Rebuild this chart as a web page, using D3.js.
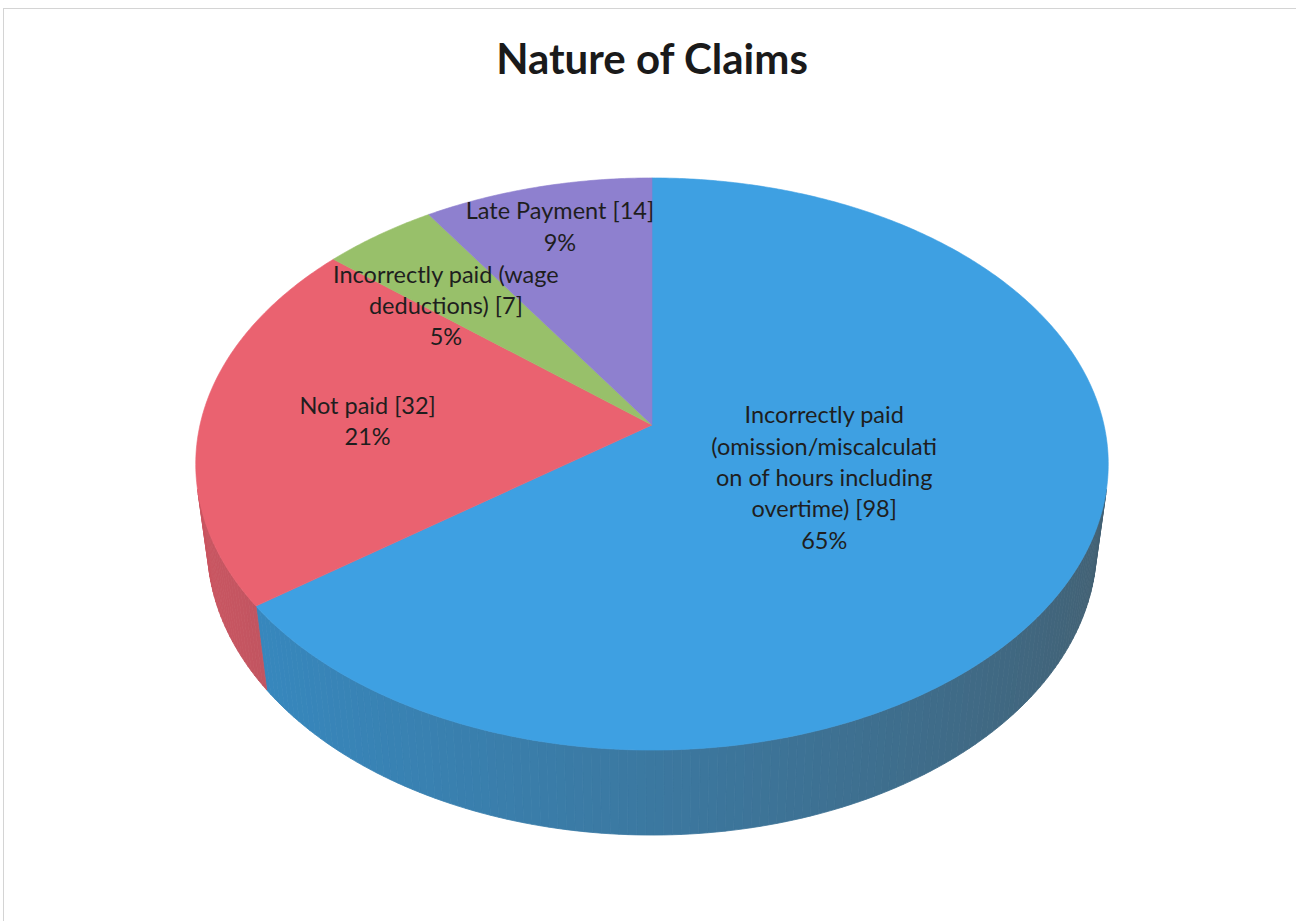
<!DOCTYPE html>
<html>
<head>
<meta charset="utf-8">
<script src="https://cdn.jsdelivr.net/npm/d3@7"></script>
<style>
  html, body { margin: 0; padding: 0; background: #ffffff; }
  svg { display: block; }
</style>
</head>
<body>
<svg id="chart" width="1296" height="921"></svg>
<script>
// Claims by nature (count of claims)
const categories = [
  "Incorrectly paid (omission/miscalculation of hours including overtime)",
  "Not paid",
  "Incorrectly paid (wage deductions)",
  "Late Payment"
];
const claims = [98, 32, 7, 14];
const labelLines = [
  ["Incorrectly paid", "(omission/miscalculati", "on of hours including", "overtime) [98]"],
  ["Not paid [32]"],
  ["Incorrectly paid (wage", "deductions) [7]"],
  ["Late Payment [14]"]
];
const sliceColors = ["#3ea0e2", "#ea6270", "#98c06a", "#8e80cf"];

const W = 1296, H = 921;
const svg = d3.select("#chart");

// light frame around the chart area
svg.append("rect")
  .attr("x", 3.5).attr("y", 8.5)
  .attr("width", W + 10).attr("height", H + 10)
  .attr("fill", "none").attr("stroke", "#d4d4d4").attr("stroke-width", 1);

svg.append("text")
  .attr("x", 652).attr("y", 74)
  .attr("text-anchor", "middle")
  .attr("font-family", "Lato, 'Open Sans', sans-serif")
  .attr("font-weight", 700)
  .attr("font-size", 42)
  .attr("fill", "#1a1a1a")
  .text("Nature of Claims");

// ---- perspective pie geometry ----
const cx = 652, cy = 425;          // screen position of the pie centre
const D = 1;                        // camera distance
const R = 0.174;                    // pie radius (world units)
const F = 452 / R;                  // focal scale
const tilt = 38.4 * Math.PI / 180;  // elevation of the view
const thick = 0.0412;               // pie height
const sinA = Math.sin(tilt), cosA = Math.cos(tilt);

// theta measured clockwise from 12 o'clock, as d3.pie does
function project(theta, r, y) {
  const x = r * Math.sin(theta), z = r * Math.cos(theta);
  const Y = z * sinA + y * cosA;
  const Zc = z * cosA - y * sinA + D;
  return [cx + F * x / Zc, cy - F * Y / Zc];
}

const total = d3.sum(claims);
const arcs = d3.pie().sort(null).value(d => d)(claims);
const line = d3.line();
const step = Math.PI / 360;

function arcPoints(a0, a1, r, y) {
  const n = Math.max(2, Math.ceil((a1 - a0) / step));
  return d3.range(n + 1).map(i => project(a0 + (a1 - a0) * i / n, r, y));
}

// outer wall faces the camera where cos(theta) < -R / (D cos(tilt))
const cLim = Math.acos(-R / (D * cosA));
const visLo = cLim, visHi = 2 * Math.PI - cLim;

// wall shading: lit from the left, falling to a grey slate on the right
const slate = "#44545c";
function wallColor(base, theta) {
  const l = (1 - Math.sin(theta)) / 2;
  const light = d3.rgb(base).darker(0.4);
  const dark = d3.interpolateRgb(base, slate)(0.85);
  return d3.interpolateRgb(dark, light)(Math.pow(l, 0.8));
}

const walls = svg.append("g");
arcs.forEach((a, i) => {
  const a0 = Math.max(a.startAngle, visLo), a1 = Math.min(a.endAngle, visHi);
  if (a1 <= a0) return;
  const n = Math.max(1, Math.ceil((a1 - a0) / (Math.PI / 180)));
  d3.range(n).forEach(k => {
    const t0 = a0 + (a1 - a0) * k / n, t1 = a0 + (a1 - a0) * (k + 1) / n;
    const pts = [project(t0, R, 0), project(t1, R, 0), project(t1, R, -thick), project(t0, R, -thick)];
    const col = wallColor(sliceColors[i], (t0 + t1) / 2);
    walls.append("path")
      .attr("d", line(pts) + "Z")
      .attr("fill", col)
      .attr("stroke", col)
      .attr("stroke-width", 0.8);
  });
});

// top faces
const tops = svg.append("g");
arcs.forEach((a, i) => {
  const pts = [project(0, 0, 0), ...arcPoints(a.startAngle, a.endAngle, R, 0)];
  tops.append("path")
    .attr("d", line(pts) + "Z")
    .attr("fill", sliceColors[i])
    .attr("stroke", sliceColors[i])
    .attr("stroke-width", 0.6);
});

// data labels: category [count] and share
// anchor per label: fraction of the radius and a small turn (degrees) from the slice middle
const labelAnchor = [[0.416, 0], [0.63, -1], [0.658, -5.6], [0.808, 0.5]];
const lineH = 31.3;
const labels = svg.append("g")
  .attr("font-family", "Lato, 'Open Sans', sans-serif")
  .attr("font-size", 23.5)
  .attr("fill", "#1e1e1e")
  .attr("text-anchor", "middle");

arcs.forEach((a, i) => {
  const mid = (a.startAngle + a.endAngle) / 2 + labelAnchor[i][1] * Math.PI / 180;
  const [lx, ly] = project(mid, R * labelAnchor[i][0], 0);
  const lines = [...labelLines[i], Math.round(claims[i] / total * 100) + "%"];
  const y0 = ly - (lines.length - 1) * lineH / 2 + 7;
  const t = labels.append("text");
  lines.forEach((s, j) => {
    t.append("tspan").attr("x", lx).attr("y", y0 + j * lineH).text(s);
  });
});
</script>
</body>
</html>
